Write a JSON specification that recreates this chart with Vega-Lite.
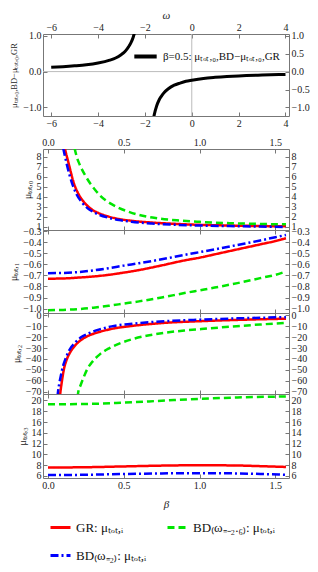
{
"$schema": "https://vega.github.io/schema/vega-lite/v6.json",
"padding": {"left": 8, "top": 8, "right": 4, "bottom": 4},
"background": "white",
"config": {
  "font": "Liberation Serif",
  "view": {"stroke": "#777", "strokeWidth": 1},
  "axis": {"labelFont": "Liberation Serif", "labelFontSize": 10, "labelColor": "#222", "titleFont": "Liberation Serif", "titleFontWeight": "normal", "titleFontSize": 10, "titleColor": "#222", "domain": false, "grid": false, "tickColor": "#777", "tickSize": -4, "labelPadding": 6, "labelOverlap": false, "labelFlush": false, "labelBound": false},
  "legend": {"labelFont": "Liberation Serif", "labelColor": "#111"}
},
"datasets": {
  "top": [
    {"w": -6, "d": 0.12, "br": "L", "s": "b05"}, {"w": -5.5, "d": 0.137, "br": "L", "s": "b05"}, {"w": -5, "d": 0.16, "br": "L", "s": "b05"}, {"w": -4.5, "d": 0.19, "br": "L", "s": "b05"}, {"w": -4, "d": 0.24, "br": "L", "s": "b05"}, {"w": -3.5, "d": 0.32, "br": "L", "s": "b05"}, {"w": -3.25, "d": 0.38, "br": "L", "s": "b05"}, {"w": -3, "d": 0.48, "br": "L", "s": "b05"}, {"w": -2.9, "d": 0.53, "br": "L", "s": "b05"}, {"w": -2.8, "d": 0.6, "br": "L", "s": "b05"}, {"w": -2.7, "d": 0.69, "br": "L", "s": "b05"}, {"w": -2.6, "d": 0.8, "br": "L", "s": "b05"}, {"w": -2.5, "d": 0.96, "br": "L", "s": "b05"}, {"w": -2.45, "d": 1.07, "br": "L", "s": "b05"},
    {"w": -1.65, "d": -1.37, "br": "R", "s": "b05"}, {"w": -1.6, "d": -1.2, "br": "R", "s": "b05"}, {"w": -1.5, "d": -0.96, "br": "R", "s": "b05"}, {"w": -1.4, "d": -0.8, "br": "R", "s": "b05"}, {"w": -1.3, "d": -0.69, "br": "R", "s": "b05"}, {"w": -1.2, "d": -0.6, "br": "R", "s": "b05"}, {"w": -1.0, "d": -0.48, "br": "R", "s": "b05"}, {"w": -0.75, "d": -0.38, "br": "R", "s": "b05"}, {"w": -0.5, "d": -0.32, "br": "R", "s": "b05"}, {"w": -0.25, "d": -0.27, "br": "R", "s": "b05"}, {"w": 0, "d": -0.24, "br": "R", "s": "b05"}, {"w": 0.5, "d": -0.19, "br": "R", "s": "b05"}, {"w": 1, "d": -0.16, "br": "R", "s": "b05"}, {"w": 1.5, "d": -0.137, "br": "R", "s": "b05"}, {"w": 2, "d": -0.12, "br": "R", "s": "b05"}, {"w": 3, "d": -0.096, "br": "R", "s": "b05"}, {"w": 4, "d": -0.08, "br": "R", "s": "b05"}
  ],
  "p0": [
    {"s": "GR", "b": 0.11, "v": 8.9}, {"s": "GR", "b": 0.12, "v": 8.3}, {"s": "GR", "b": 0.137, "v": 7.3}, {"s": "GR", "b": 0.15, "v": 6.5}, {"s": "GR", "b": 0.17, "v": 5.4}, {"s": "GR", "b": 0.2, "v": 4.3}, {"s": "GR", "b": 0.235, "v": 3.5}, {"s": "GR", "b": 0.27, "v": 2.95}, {"s": "GR", "b": 0.3, "v": 2.6}, {"s": "GR", "b": 0.334, "v": 2.35}, {"s": "GR", "b": 0.4, "v": 2.0}, {"s": "GR", "b": 0.47, "v": 1.75}, {"s": "GR", "b": 0.55, "v": 1.58}, {"s": "GR", "b": 0.685, "v": 1.4}, {"s": "GR", "b": 0.85, "v": 1.26}, {"s": "GR", "b": 1.0, "v": 1.17}, {"s": "GR", "b": 1.2, "v": 1.1}, {"s": "GR", "b": 1.4, "v": 1.05}, {"s": "GR", "b": 1.57, "v": 1.02},
    {"s": "BDm", "b": 0.175, "v": 8.9}, {"s": "BDm", "b": 0.19, "v": 8.0}, {"s": "BDm", "b": 0.21, "v": 7.2}, {"s": "BDm", "b": 0.247, "v": 6.1}, {"s": "BDm", "b": 0.28, "v": 5.3}, {"s": "BDm", "b": 0.31, "v": 4.7}, {"s": "BDm", "b": 0.345, "v": 4.1}, {"s": "BDm", "b": 0.38, "v": 3.65}, {"s": "BDm", "b": 0.42, "v": 3.25}, {"s": "BDm", "b": 0.47, "v": 2.85}, {"s": "BDm", "b": 0.52, "v": 2.55}, {"s": "BDm", "b": 0.58, "v": 2.25}, {"s": "BDm", "b": 0.65, "v": 2.0}, {"s": "BDm", "b": 0.71, "v": 1.85}, {"s": "BDm", "b": 0.85, "v": 1.62}, {"s": "BDm", "b": 1.0, "v": 1.47}, {"s": "BDm", "b": 1.2, "v": 1.34}, {"s": "BDm", "b": 1.4, "v": 1.26}, {"s": "BDm", "b": 1.57, "v": 1.22},
    {"s": "BDp", "b": 0.1, "v": 8.9}, {"s": "BDp", "b": 0.11, "v": 8.2}, {"s": "BDp", "b": 0.125, "v": 7.2}, {"s": "BDp", "b": 0.14, "v": 6.3}, {"s": "BDp", "b": 0.16, "v": 5.3}, {"s": "BDp", "b": 0.19, "v": 4.2}, {"s": "BDp", "b": 0.225, "v": 3.4}, {"s": "BDp", "b": 0.26, "v": 2.85}, {"s": "BDp", "b": 0.3, "v": 2.45}, {"s": "BDp", "b": 0.334, "v": 2.2}, {"s": "BDp", "b": 0.4, "v": 1.88}, {"s": "BDp", "b": 0.47, "v": 1.65}, {"s": "BDp", "b": 0.55, "v": 1.48}, {"s": "BDp", "b": 0.685, "v": 1.3}, {"s": "BDp", "b": 0.85, "v": 1.17}, {"s": "BDp", "b": 1.0, "v": 1.1}, {"s": "BDp", "b": 1.2, "v": 1.04}, {"s": "BDp", "b": 1.4, "v": 0.99}, {"s": "BDp", "b": 1.57, "v": 0.96}
  ],
  "p1": [
    {"s": "GR", "b": 0, "v": -0.73}, {"s": "GR", "b": 0.1, "v": -0.728}, {"s": "GR", "b": 0.2, "v": -0.72}, {"s": "GR", "b": 0.3, "v": -0.71}, {"s": "GR", "b": 0.4, "v": -0.695}, {"s": "GR", "b": 0.5, "v": -0.675}, {"s": "GR", "b": 0.6, "v": -0.652}, {"s": "GR", "b": 0.75, "v": -0.61}, {"s": "GR", "b": 0.9, "v": -0.565}, {"s": "GR", "b": 1.0, "v": -0.54}, {"s": "GR", "b": 1.1, "v": -0.51}, {"s": "GR", "b": 1.25, "v": -0.465}, {"s": "GR", "b": 1.4, "v": -0.42}, {"s": "GR", "b": 1.5, "v": -0.39}, {"s": "GR", "b": 1.57, "v": -0.365},
    {"s": "BDm", "b": 0, "v": -1.015}, {"s": "BDm", "b": 0.1, "v": -1.012}, {"s": "BDm", "b": 0.2, "v": -1.005}, {"s": "BDm", "b": 0.3, "v": -0.992}, {"s": "BDm", "b": 0.4, "v": -0.975}, {"s": "BDm", "b": 0.5, "v": -0.955}, {"s": "BDm", "b": 0.6, "v": -0.935}, {"s": "BDm", "b": 0.75, "v": -0.9}, {"s": "BDm", "b": 0.9, "v": -0.86}, {"s": "BDm", "b": 1.0, "v": -0.835}, {"s": "BDm", "b": 1.1, "v": -0.81}, {"s": "BDm", "b": 1.25, "v": -0.77}, {"s": "BDm", "b": 1.4, "v": -0.725}, {"s": "BDm", "b": 1.5, "v": -0.695}, {"s": "BDm", "b": 1.57, "v": -0.665},
    {"s": "BDp", "b": 0, "v": -0.68}, {"s": "BDp", "b": 0.1, "v": -0.678}, {"s": "BDp", "b": 0.2, "v": -0.67}, {"s": "BDp", "b": 0.3, "v": -0.655}, {"s": "BDp", "b": 0.4, "v": -0.635}, {"s": "BDp", "b": 0.5, "v": -0.612}, {"s": "BDp", "b": 0.6, "v": -0.59}, {"s": "BDp", "b": 0.75, "v": -0.555}, {"s": "BDp", "b": 0.9, "v": -0.515}, {"s": "BDp", "b": 1.0, "v": -0.49}, {"s": "BDp", "b": 1.1, "v": -0.465}, {"s": "BDp", "b": 1.25, "v": -0.425}, {"s": "BDp", "b": 1.4, "v": -0.385}, {"s": "BDp", "b": 1.5, "v": -0.355}, {"s": "BDp", "b": 1.57, "v": -0.335}
  ],
  "p2": [
    {"s": "GR", "b": 0.078, "v": -75}, {"s": "GR", "b": 0.082, "v": -70}, {"s": "GR", "b": 0.09, "v": -62}, {"s": "GR", "b": 0.104, "v": -50}, {"s": "GR", "b": 0.125, "v": -40}, {"s": "GR", "b": 0.148, "v": -33.5}, {"s": "GR", "b": 0.18, "v": -27.5}, {"s": "GR", "b": 0.225, "v": -22}, {"s": "GR", "b": 0.28, "v": -18}, {"s": "GR", "b": 0.334, "v": -15.5}, {"s": "GR", "b": 0.42, "v": -12.5}, {"s": "GR", "b": 0.555, "v": -9.8}, {"s": "GR", "b": 0.77, "v": -7}, {"s": "GR", "b": 1.0, "v": -5.5}, {"s": "GR", "b": 1.25, "v": -4.3}, {"s": "GR", "b": 1.57, "v": -3.2},
    {"s": "BDm", "b": 0.195, "v": -75}, {"s": "BDm", "b": 0.2, "v": -70}, {"s": "BDm", "b": 0.215, "v": -64}, {"s": "BDm", "b": 0.236, "v": -56.5}, {"s": "BDm", "b": 0.26, "v": -49}, {"s": "BDm", "b": 0.29, "v": -43}, {"s": "BDm", "b": 0.34, "v": -36}, {"s": "BDm", "b": 0.4, "v": -30.5}, {"s": "BDm", "b": 0.47, "v": -26}, {"s": "BDm", "b": 0.554, "v": -22}, {"s": "BDm", "b": 0.65, "v": -18.8}, {"s": "BDm", "b": 0.774, "v": -16}, {"s": "BDm", "b": 0.9, "v": -14}, {"s": "BDm", "b": 1.0, "v": -12.8}, {"s": "BDm", "b": 1.2, "v": -10.5}, {"s": "BDm", "b": 1.4, "v": -8.5}, {"s": "BDm", "b": 1.57, "v": -7},
    {"s": "BDp", "b": 0.062, "v": -75}, {"s": "BDp", "b": 0.066, "v": -70}, {"s": "BDp", "b": 0.075, "v": -62}, {"s": "BDp", "b": 0.085, "v": -55}, {"s": "BDp", "b": 0.1, "v": -46}, {"s": "BDp", "b": 0.115, "v": -40}, {"s": "BDp", "b": 0.14, "v": -32}, {"s": "BDp", "b": 0.18, "v": -25}, {"s": "BDp", "b": 0.22, "v": -20}, {"s": "BDp", "b": 0.27, "v": -16.5}, {"s": "BDp", "b": 0.34, "v": -13}, {"s": "BDp", "b": 0.42, "v": -10.2}, {"s": "BDp", "b": 0.555, "v": -7.8}, {"s": "BDp", "b": 0.77, "v": -5.5}, {"s": "BDp", "b": 1.0, "v": -4.1}, {"s": "BDp", "b": 1.25, "v": -2.9}, {"s": "BDp", "b": 1.57, "v": -1.8}
  ],
  "p3": [
    {"s": "GR", "b": 0, "v": 7.55}, {"s": "GR", "b": 0.25, "v": 7.6}, {"s": "GR", "b": 0.5, "v": 7.75}, {"s": "GR", "b": 0.75, "v": 7.9}, {"s": "GR", "b": 1.0, "v": 7.97}, {"s": "GR", "b": 1.25, "v": 7.92}, {"s": "GR", "b": 1.4, "v": 7.8}, {"s": "GR", "b": 1.57, "v": 7.65},
    {"s": "BDm", "b": 0, "v": 19.3}, {"s": "BDm", "b": 0.25, "v": 19.35}, {"s": "BDm", "b": 0.5, "v": 19.6}, {"s": "BDm", "b": 0.75, "v": 19.95}, {"s": "BDm", "b": 1.0, "v": 20.3}, {"s": "BDm", "b": 1.25, "v": 20.55}, {"s": "BDm", "b": 1.57, "v": 20.75},
    {"s": "BDp", "b": 0, "v": 6.15}, {"s": "BDp", "b": 0.25, "v": 6.2}, {"s": "BDp", "b": 0.5, "v": 6.35}, {"s": "BDp", "b": 0.75, "v": 6.45}, {"s": "BDp", "b": 1.0, "v": 6.5}, {"s": "BDp", "b": 1.25, "v": 6.45}, {"s": "BDp", "b": 1.4, "v": 6.35}, {"s": "BDp", "b": 1.57, "v": 6.2}
  ]
},
"bounds": "flush",
"spacing": 33,
"resolve": {"scale": {"color": "independent", "strokeDash": "independent"}, "legend": {"color": "independent", "strokeDash": "independent"}},
"vconcat": [
  {
    "width": 246, "height": 82,
    "layer": [
      {"layer": [
        {"data": {"values": [{"w": 0}]}, "mark": {"type": "rule", "color": "#bbb", "strokeWidth": 1}, "encoding": {"x": {"field": "w", "type": "quantitative"}}},
        {"data": {"values": [{"d": 0}]}, "mark": {"type": "rule", "color": "#bbb", "strokeWidth": 1}, "encoding": {"y": {"field": "d", "type": "quantitative"}}},
        {"data": {"name": "top"}, "mark": {"type": "line", "clip": true, "strokeWidth": 3, "interpolate": "monotone"},
         "encoding": {
           "x": {"field": "w", "type": "quantitative", "scale": {"domain": [-6.35, 4.15], "nice": false, "zero": false}, "axis": {"orient": "bottom", "values": [-6, -4, -2, 0, 2, 4], "format": "d", "title": null}},
           "y": {"field": "d", "type": "quantitative", "scale": {"domain": [-1.24, 1.05], "nice": false, "zero": false}, "axis": {"orient": "left", "values": [-1, -0.5, 0, 0.5, 1], "format": ".1f", "title": "μₜₒₜ,₀,BD−μₜₒₜ,₀,GR", "titlePadding": 4, "titleFontSize": 8.5}},
           "detail": {"field": "br"},
           "color": {"field": "s", "type": "nominal", "scale": {"domain": ["b05"], "range": ["#000000"]},
             "legend": {"title": null, "orient": "top-right", "offset": 9, "symbolType": "stroke", "symbolSize": 500, "symbolStrokeWidth": 4, "labelFontSize": 11, "labelExpr": "'β=0.5: μₜₒₜ,₀,BD−μₜₒₜ,₀,GR'"}}
         }}
      ]},
      {"data": {"name": "top"}, "mark": {"type": "point", "opacity": 0, "clip": true},
       "encoding": {
         "x": {"field": "w", "type": "quantitative", "scale": {"domain": [-6.35, 4.15], "nice": false, "zero": false}, "axis": {"orient": "top", "values": [-6, -4, -2, 0, 2, 4], "format": "d", "title": "ω", "titleFontStyle": "italic", "titlePadding": 2, "titleFontSize": 11}},
         "y": {"field": "d", "type": "quantitative", "scale": {"domain": [-1.24, 1.05], "nice": false, "zero": false}, "axis": {"orient": "right", "values": [-1, -0.5, 0, 0.5, 1], "format": ".1f", "title": null}}
       }}
    ],
    "resolve": {"scale": {"x": "independent", "y": "independent"}}
  },
  {
    "bounds": "flush",
    "spacing": 0,
    "vconcat": [
      {
        "width": 246, "height": 81,
        "data": {"name": "p0"},
        "layer": [
          {"mark": {"type": "line", "clip": true, "strokeWidth": 2.5, "interpolate": "monotone"},
           "encoding": {
             "x": {"field": "b", "type": "quantitative", "scale": {"domain": [-0.033, 1.59], "nice": false, "zero": false}, "axis": {"orient": "bottom", "values": [0, 0.5, 1, 1.5], "labels": false, "title": null}},
             "y": {"field": "v", "type": "quantitative", "scale": {"domain": [0.65, 8.8], "nice": false, "zero": false}, "axis": {"orient": "left", "values": [1, 2, 3, 4, 5, 6, 7, 8], "format": "d", "title": "μₜₒₜ,₀"}},
             "color": {"field": "s", "type": "nominal", "scale": {"domain": ["GR", "BDm", "BDp"], "range": ["#ff0000", "#00e600", "#0000ff"]}, "legend": {"title": null, "orient": "bottom", "direction": "horizontal", "columns": 2, "gridAlign": "none", "symbolType": "stroke", "symbolSize": 400, "symbolStrokeWidth": 3, "labelFontSize": 13, "rowPadding": 9, "columnPadding": 14, "offset": 0, "padding": 6, "labelExpr": "datum.value == 'GR' ? 'GR: μₜₒₜ,ᵢ' : datum.value == 'BDm' ? 'BD₍ω₌₋₂.₆₎: μₜₒₜ,ᵢ' : 'BD₍ω₌₂₎: μₜₒₜ,ᵢ'"}},
             "strokeDash": {"field": "s", "type": "nominal", "scale": {"domain": ["GR", "BDm", "BDp"], "range": [[1, 0], [7, 4], [8, 3, 2, 3]]}, "legend": {"title": null, "orient": "bottom", "direction": "horizontal", "columns": 2, "gridAlign": "none", "symbolType": "stroke", "symbolSize": 400, "symbolStrokeWidth": 3, "labelFontSize": 13, "rowPadding": 9, "columnPadding": 14, "offset": 0, "padding": 6, "labelExpr": "datum.value == 'GR' ? 'GR: μₜₒₜ,ᵢ' : datum.value == 'BDm' ? 'BD₍ω₌₋₂.₆₎: μₜₒₜ,ᵢ' : 'BD₍ω₌₂₎: μₜₒₜ,ᵢ'"}}
           }},
          {"mark": {"type": "point", "opacity": 0, "clip": true},
           "encoding": {
             "x": {"field": "b", "type": "quantitative", "scale": {"domain": [-0.033, 1.59], "nice": false, "zero": false}, "axis": {"orient": "top", "values": [0, 0.5, 1, 1.5], "format": ".1f", "title": null}},
             "y": {"field": "v", "type": "quantitative", "scale": {"domain": [0.65, 8.8], "nice": false, "zero": false}, "axis": {"orient": "right", "values": [1, 2, 3, 4, 5, 6, 7, 8], "format": "d", "title": null}}
           }}
        ],
        "resolve": {"scale": {"x": "independent", "y": "independent"}}
      },
      {
        "width": 246, "height": 83,
        "data": {"name": "p1"},
        "layer": [
          {"mark": {"type": "line", "clip": true, "strokeWidth": 2.5, "interpolate": "monotone"},
           "encoding": {
             "x": {"field": "b", "type": "quantitative", "scale": {"domain": [-0.033, 1.59], "nice": false, "zero": false}, "axis": {"orient": "bottom", "values": [0, 0.5, 1, 1.5], "labels": false, "title": null}},
             "y": {"field": "v", "type": "quantitative", "scale": {"domain": [-1.04, -0.29], "nice": false, "zero": false}, "axis": {"orient": "left", "values": [-1, -0.9, -0.8, -0.7, -0.6, -0.5, -0.4, -0.3], "format": ".1f", "title": "μₜₒₜ,₁"}},
             "color": {"field": "s", "type": "nominal"},
             "strokeDash": {"field": "s", "type": "nominal"}
           }},
          {"mark": {"type": "point", "opacity": 0, "clip": true},
           "encoding": {
             "x": {"field": "b", "type": "quantitative", "scale": {"domain": [-0.033, 1.59], "nice": false, "zero": false}, "axis": {"orient": "top", "values": [0, 0.5, 1, 1.5], "labels": false, "title": null}},
             "y": {"field": "v", "type": "quantitative", "scale": {"domain": [-1.04, -0.29], "nice": false, "zero": false}, "axis": {"orient": "right", "values": [-1, -0.9, -0.8, -0.7, -0.6, -0.5, -0.4, -0.3], "format": ".1f", "title": null}}
           }}
        ],
        "resolve": {"scale": {"x": "independent", "y": "independent"}}
      },
      {
        "width": 246, "height": 81,
        "data": {"name": "p2"},
        "layer": [
          {"mark": {"type": "line", "clip": true, "strokeWidth": 2.5, "interpolate": "monotone"},
           "encoding": {
             "x": {"field": "b", "type": "quantitative", "scale": {"domain": [-0.033, 1.59], "nice": false, "zero": false}, "axis": {"orient": "bottom", "values": [0, 0.5, 1, 1.5], "labels": false, "title": null}},
             "y": {"field": "v", "type": "quantitative", "scale": {"domain": [-72, 2], "nice": false, "zero": false}, "axis": {"orient": "left", "values": [0, -10, -20, -30, -40, -50, -60, -70], "format": "d", "title": "μₜₒₜ,₂"}},
             "color": {"field": "s", "type": "nominal"},
             "strokeDash": {"field": "s", "type": "nominal"}
           }},
          {"mark": {"type": "point", "opacity": 0, "clip": true},
           "encoding": {
             "x": {"field": "b", "type": "quantitative", "scale": {"domain": [-0.033, 1.59], "nice": false, "zero": false}, "axis": {"orient": "top", "values": [0, 0.5, 1, 1.5], "labels": false, "title": null}},
             "y": {"field": "v", "type": "quantitative", "scale": {"domain": [-72, 2], "nice": false, "zero": false}, "axis": {"orient": "right", "values": [0, -10, -20, -30, -40, -50, -60, -70], "format": "d", "title": null}}
           }}
        ],
        "resolve": {"scale": {"x": "independent", "y": "independent"}}
      },
      {
        "width": 246, "height": 84,
        "data": {"name": "p3"},
        "layer": [
          {"mark": {"type": "line", "clip": true, "strokeWidth": 2.5, "interpolate": "monotone"},
           "encoding": {
             "x": {"field": "b", "type": "quantitative", "scale": {"domain": [-0.033, 1.59], "nice": false, "zero": false}, "axis": {"orient": "bottom", "values": [0, 0.5, 1, 1.5], "format": ".1f", "title": "β", "titleFontStyle": "italic", "titleFontSize": 11, "titlePadding": 8}},
             "y": {"field": "v", "type": "quantitative", "scale": {"domain": [5.6, 21.2], "nice": false, "zero": false}, "axis": {"orient": "left", "values": [6, 8, 10, 12, 14, 16, 18, 20], "format": "d", "title": "μₜₒₜ,₃"}},
             "color": {"field": "s", "type": "nominal"},
             "strokeDash": {"field": "s", "type": "nominal"}
           }},
          {"mark": {"type": "point", "opacity": 0, "clip": true},
           "encoding": {
             "x": {"field": "b", "type": "quantitative", "scale": {"domain": [-0.033, 1.59], "nice": false, "zero": false}, "axis": {"orient": "top", "values": [0, 0.5, 1, 1.5], "labels": false, "title": null}},
             "y": {"field": "v", "type": "quantitative", "scale": {"domain": [5.6, 21.2], "nice": false, "zero": false}, "axis": {"orient": "right", "values": [6, 8, 10, 12, 14, 16, 18, 20], "format": "d", "title": null}}
           }}
        ],
        "resolve": {"scale": {"x": "independent", "y": "independent"}}
      }
    ]
  }
]
}
